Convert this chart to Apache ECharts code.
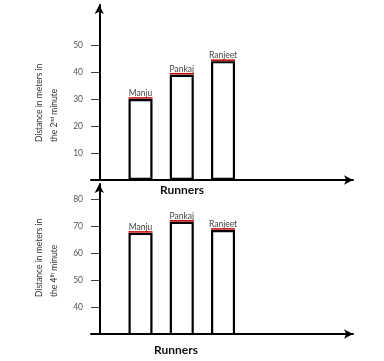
<!DOCTYPE html>
<html><head><meta charset="utf-8">
<script src="https://cdn.jsdelivr.net/npm/echarts@6/dist/echarts.min.js"></script>
<style>html,body{margin:0;padding:0;background:#fff}#c{width:384px;height:361px}</style>
</head><body><div id="c"></div>
<script>
const runners = ['Manju', 'Pankaj', 'Ranjeet'];
const dist2nd = [30, 39, 44];
const dist4th = [67.4, 71.5, 68.5];
const ticks2nd = [10, 20, 30, 40, 50];
const ticks4th = [40, 50, 60, 70, 80];
const titleLine1 = 'Distance in meters in';
const titleLine2Top = 'the 2{sup|nd} minute';
const titleLine2Bottom = 'the 4{sup|th} minute';
const xTitle = 'Runners';

const chart = echarts.init(document.getElementById('c'), null, {renderer: 'canvas'});
const font = 'Lato, "Open Sans", sans-serif';
const toPairs = arr => arr.map((v, i) => [i + 1, v, runners[i]]);

function yAxes(gi, min, max, ticks) {
  const base = {
    type: 'value', gridIndex: gi, min: min, max: max, splitLine: {show: false}
  };
  return [
    Object.assign({}, base, {
      axisLine: {show: true, symbol: ['none', 'arrow'], symbolSize: [7, 9], lineStyle: {color: '#000', width: 2}},
      axisTick: {show: true, customValues: ticks, length: 5, lineStyle: {color: '#444', width: 1}},
      axisLabel: {show: true, customValues: ticks, margin: 8, color: '#555', fontSize: 8.5, fontFamily: font}
    }),
    Object.assign({}, base, {
      axisLine: {show: false}, position: 'left',
      axisTick: {show: true, inside: true, customValues: ticks, length: 5, lineStyle: {color: '#444', width: 1}},
      axisLabel: {show: false}
    })
  ];
}

function xAxis(gi) {
  return {
    type: 'value', gridIndex: gi, min: -0.2, max: 6.15,
    axisLine: {show: true, onZero: false, symbol: ['none', 'arrow'], symbolSize: [7, 9], lineStyle: {color: '#000', width: 2}},
    axisTick: {show: false}, axisLabel: {show: false}, splitLine: {show: false}
  };
}

function barSeries(xi, yi, data) {
  return {
    type: 'bar', xAxisIndex: xi, yAxisIndex: yi, data: data, barWidth: 24,
    itemStyle: {color: '#fff', borderColor: '#000', borderWidth: 2.2},
    label: {show: true, position: 'top', distance: 1, formatter: p => p.data[2],
      color: '#444', fontSize: 8.5, fontFamily: font},
    silent: true, z: 2
  };
}

function redLine(xi, yi, data) {
  return {
    type: 'custom', xAxisIndex: xi, yAxisIndex: yi, data: data, z: 5, silent: true,
    renderItem: function (params, api) {
      const p = api.coord([api.value(0), api.value(1)]);
      return {type: 'line', shape: {x1: p[0] - 12, y1: p[1] - 1, x2: p[0] + 12, y2: p[1] - 1},
        style: {stroke: '#c00000', lineWidth: 1.5}};
    }
  };
}

function vText(x, y, text) {
  return {type: 'text', x: x, y: y, rotation: Math.PI / 2,
    style: {text: text, fill: '#333', font: '8.5px ' + font, textAlign: 'left', textVerticalAlign: 'middle',
      rich: {sup: {fontSize: 5, fill: '#333', fontFamily: font, verticalAlign: 'top'}}}};
}

const ya = yAxes(0, 0, 64.8, ticks2nd);
const yb = yAxes(1, 30, 85.5, ticks4th);

chart.setOption({
  animation: false,
  backgroundColor: '#fff',
  grid: [
    {left: 91, right: 31, top: 5, bottom: 181},
    {left: 91, right: 31, top: 184, bottom: 27}
  ],
  xAxis: [xAxis(0), xAxis(1)],
  yAxis: ya.concat(yb),
  series: [
    barSeries(0, 0, toPairs(dist2nd)),
    redLine(0, 0, toPairs(dist2nd)),
    barSeries(1, 2, toPairs(dist4th)),
    redLine(1, 2, toPairs(dist4th))
  ],
  graphic: [
    vText(39, 142, titleLine1),
    vText(54, 142, titleLine2Top),
    vText(39, 297, titleLine1),
    vText(54, 297, titleLine2Bottom),
    {type: 'text', left: 160, top: 184, style: {text: xTitle, font: 'bold 12px ' + font, fill: '#111'}},
    {type: 'text', left: 154, top: 344, style: {text: xTitle, font: 'bold 12px ' + font, fill: '#111'}}
  ]
});
</script></body></html>
